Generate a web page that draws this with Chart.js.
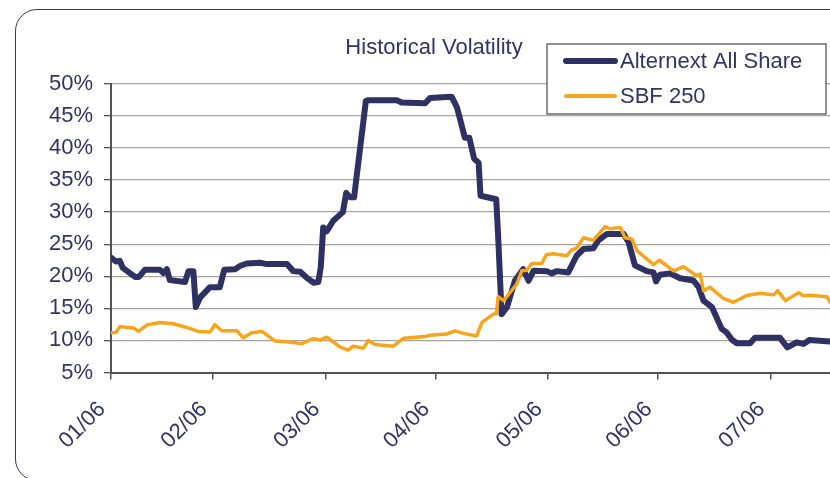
<!DOCTYPE html>
<html><head><meta charset="utf-8">
<script src="https://cdn.jsdelivr.net/npm/chart.js@4/dist/chart.umd.min.js"></script>
<style>
html,body{margin:0;padding:0;background:#fff;overflow:hidden;width:830px;height:478px;}
#frame{position:absolute;left:15px;top:8.5px;width:900px;height:470px;border:1.5px solid #35386a;border-radius:22px;}
#wrap{position:absolute;left:0;top:0;width:830px;height:478px;}
</style></head><body>
<div id="frame"></div>
<div id="wrap"><canvas id="c"></canvas></div>
<script>
// ---- data (x = trading-day index from start of Jan 2006, y = volatility %) ----
const titleText = 'Historical Volatility';
const seriesNames = ['Alternext All Share', 'SBF 250'];
const monthLabels = ['01/06','02/06','03/06','04/06','05/06','06/06','07/06'];
const monthTicks  = [0, 20.8, 43.8, 66.2, 89.2, 111.6, 134.6];
const yTicks = [5,10,15,20,25,30,35,40,45,50];

const altX = [0,1.0,1.8,2.4,4.9,5.7,6.9,10.0,10.7,11.4,12.0,15.1,15.8,16.8,17.3,18.2,20.2,22.2,23.1,25.3,26.3,27.7,30.4,31.8,35.9,37.2,38.6,39.9,41.3,42.3,42.8,43.3,44.0,45.4,47.3,48.0,48.8,49.6,52.0,52.5,58.3,59.3,64.1,65.1,69.5,70.6,72.2,73.1,74.1,75.0,75.4,78.6,79.0,79.7,80.8,82.4,84.1,85.2,86.2,88.9,89.9,91.0,93.3,95.0,96.4,98.4,99.4,101.2,104.6,105.6,106.9,109.3,110.7,111.2,112.0,114.1,116.1,118.8,119.9,120.9,122.6,124.6,125.6,126.7,127.7,130.4,131.4,136.5,138.0,139.9,141.3,142.5,146.7];
const altY = [22.9,22.3,22.4,21.3,19.9,19.9,21.0,21.0,20.5,21.1,19.4,19.1,20.8,20.8,15.2,16.7,18.3,18.3,21.0,21.1,21.6,22.0,22.1,21.9,21.9,20.8,20.7,19.8,19.0,19.1,21.4,27.6,27.0,28.7,30.0,33.0,32.3,32.3,47.35,47.45,47.45,47.1,46.95,47.8,48.0,46.3,41.6,41.6,38.3,37.7,32.55,32.0,26.1,14.1,15.2,19.3,21.1,19.3,20.85,20.8,20.45,20.8,20.6,23.2,24.25,24.35,25.55,26.6,26.6,25.3,21.7,20.8,20.6,19.2,20.25,20.45,19.7,19.35,18.3,16.2,15.2,11.8,11.25,10.1,9.55,9.55,10.4,10.4,8.9,9.7,9.45,10.05,9.85];

const sbfX = [0,1.0,1.8,4.6,5.6,7.3,10.0,12.7,15.1,17.8,20.2,21.2,22.6,25.7,27.0,28.7,30.8,33.5,35.9,38.9,41.3,42.7,44.0,46.7,48.4,49.4,51.5,52.5,53.9,57.6,59.7,64.1,65.1,68.5,70.2,71.9,74.6,75.7,78.0,78.6,79.0,80.1,82.8,83.8,84.8,85.9,87.9,88.8,90.3,93.0,94.0,95.0,96.4,98.4,99.4,100.8,101.8,103.9,104.9,106.3,107.3,109.3,110.7,111.9,114.8,116.8,119.5,120.2,120.9,122.2,125.0,127.0,129.7,132.4,135.2,136.0,137.6,140.3,141.3,142.7,146.1,146.7];
const sbfY = [11.2,11.25,12.15,11.95,11.4,12.4,12.8,12.6,12.1,11.4,11.3,12.45,11.5,11.5,10.4,11.2,11.4,9.9,9.8,9.5,10.3,10.05,10.5,9.0,8.5,9.1,8.8,10.0,9.35,9.1,10.35,10.6,10.8,11.0,11.5,11.1,10.7,12.8,14.1,14.1,16.8,16.2,18.8,20.85,20.95,22.0,22.0,23.35,23.5,23.2,24.1,24.4,26.0,25.6,26.5,27.75,27.4,27.6,26.0,25.8,24.0,22.7,21.8,22.5,20.85,21.5,20.1,20.35,17.75,18.3,16.5,15.95,17.0,17.35,17.1,17.75,16.2,17.45,16.95,17.05,16.8,15.95];

const xMax = 146.7;

// ---- styling ----
const NAVY = '#2f3163';
const ORANGE = '#f7a51c';
const TEXT = '#333366';
const AXIS = '#575252';
const GRID = '#aaa3a1';
const FONT = '"Liberation Sans", Arial, sans-serif';
const FS = 22;

const legendBox = {
  id: 'legendBox',
  afterDraw(chart) {
    const ctx = chart.ctx;
    const x0 = 547, y0 = 44, x1 = 826, y1 = 114;
    ctx.save();
    ctx.fillStyle = '#fff';
    ctx.fillRect(x0, y0, x1 - x0, y1 - y0);
    ctx.strokeStyle = '#555';
    ctx.lineWidth = 1.3;
    ctx.strokeRect(x0, y0, x1 - x0, y1 - y0);
    const rows = [61, 96];
    chart.data.datasets.forEach((ds, i) => {
      const y = rows[i];
      ctx.strokeStyle = ds.borderColor;
      ctx.lineWidth = ds.legendWidth;
      ctx.lineCap = 'round';
      ctx.beginPath(); ctx.moveTo(566, y); ctx.lineTo(615, y); ctx.stroke();
      ctx.fillStyle = TEXT;
      ctx.font = FS + 'px ' + FONT;
      ctx.textBaseline = 'middle';
      ctx.textAlign = 'left';
      ctx.fillText(ds.label, 620, y + 1);
    });
    ctx.restore();
  }
};

new Chart(document.getElementById('c'), {
  type: 'line',
  data: {
    datasets: [
      { label: seriesNames[0], data: altX.map((x, i) => ({x, y: altY[i]})),
        borderColor: NAVY, borderWidth: 6, legendWidth: 6, pointRadius: 0, tension: 0,
        borderJoinStyle: 'round', borderCapStyle: 'round', order: 1 },
      { label: seriesNames[1], data: sbfX.map((x, i) => ({x, y: sbfY[i]})),
        borderColor: ORANGE, borderWidth: 3.5, legendWidth: 4, pointRadius: 0, tension: 0,
        borderJoinStyle: 'round', borderCapStyle: 'round', order: 0 }
    ]
  },
  options: {
    responsive: true, maintainAspectRatio: false, animation: false,
    layout: { padding: { left: 38, right: 0, top: 0, bottom: 0 } },
    plugins: {
      legend: { display: false },
      tooltip: { enabled: false },
      title: { display: true, text: titleText, color: TEXT,
        font: { family: FONT, size: FS, weight: 'normal' },
        padding: { top: 35, bottom: 22.4 } }
    },
    scales: {
      x: {
        type: 'linear', min: 0, max: xMax,
        afterBuildTicks: s => { s.ticks = monthTicks.map(v => ({ value: v })); },
        afterFit: s => { s.height = 105.5; s.paddingLeft = 0; s.paddingRight = 0; },
        ticks: { autoSkip: false, minRotation: 45, maxRotation: 45, padding: 17, labelOffset: -9,
          color: TEXT, font: { family: FONT, size: FS },
          callback: (v, i) => monthLabels[i] },
        grid: { drawOnChartArea: false, tickColor: AXIS, tickLength: 7, lineWidth: 1.5 },
        border: { color: AXIS, width: 2 }
      },
      y: {
        min: 5, max: 50,
        afterBuildTicks: s => { s.ticks = yTicks.map(v => ({ value: v })); },
        afterFit: s => { s.width = 73; },
        ticks: { padding: 11, color: TEXT, font: { family: FONT, size: FS },
          callback: v => v + '%' },
        grid: { color: GRID, tickColor: AXIS, tickLength: 7, lineWidth: 1.3 },
        border: { color: AXIS, width: 2 }
      }
    }
  },
  plugins: [legendBox]
});
</script>
</body></html>
